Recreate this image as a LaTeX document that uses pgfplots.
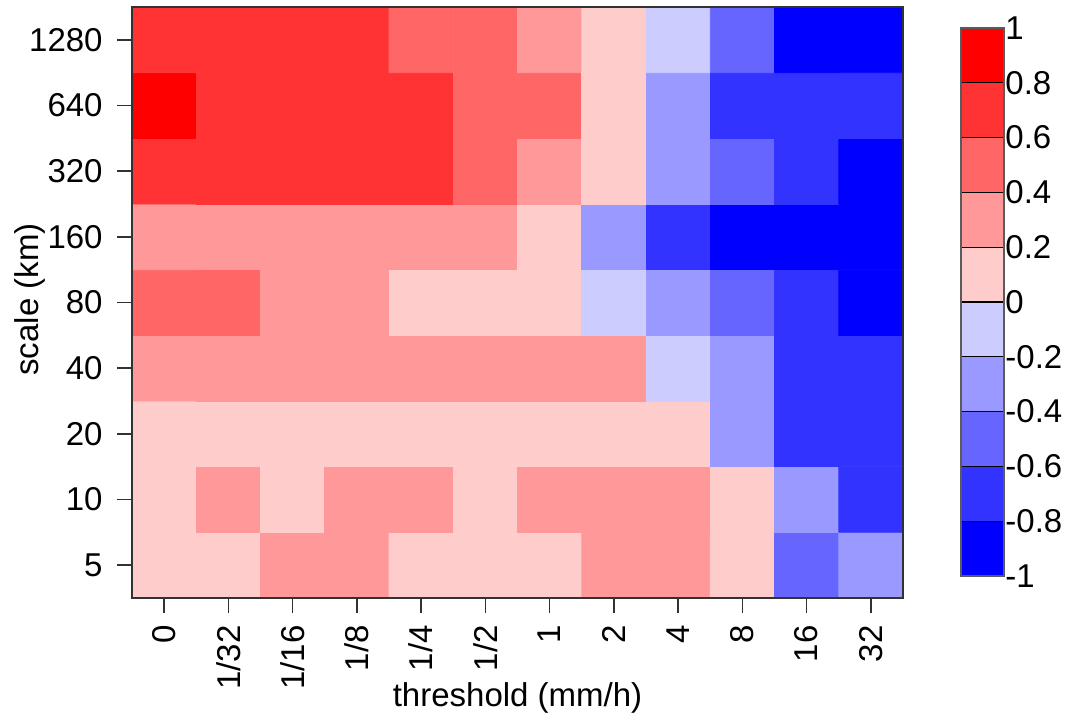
\documentclass[border=0pt]{standalone}
\usepackage{pgfplots}
\pgfplotsset{compat=1.18}
\usepackage{pgfplotstable}
\usepackage{fontspec}
\setmainfont{Liberation Sans}
\definecolor{c0}{RGB}{0,0,255}
\definecolor{c1}{RGB}{51,51,255}
\definecolor{c2}{RGB}{102,102,255}
\definecolor{c3}{RGB}{153,153,255}
\definecolor{c4}{RGB}{204,204,255}
\definecolor{c5}{RGB}{255,204,204}
\definecolor{c6}{RGB}{255,153,153}
\definecolor{c7}{RGB}{255,102,102}
\definecolor{c8}{RGB}{255,51,51}
\definecolor{c9}{RGB}{255,0,0}
\definecolor{axgray}{RGB}{50,50,50}

% x: threshold index, y: scale index, c: colour class index (0 = -1..-0.8, ..., 9 = 0.8..1)
\pgfplotstableread{
x y c
0 0 5
1 0 5
2 0 6
3 0 6
4 0 5
5 0 5
6 0 5
7 0 6
8 0 6
9 0 5
10 0 2
11 0 3
0 1 5
1 1 6
2 1 5
3 1 6
4 1 6
5 1 5
6 1 6
7 1 6
8 1 6
9 1 5
10 1 3
11 1 1
0 2 5
1 2 5
2 2 5
3 2 5
4 2 5
5 2 5
6 2 5
7 2 5
8 2 5
9 2 3
10 2 1
11 2 1
0 3 6
1 3 6
2 3 6
3 3 6
4 3 6
5 3 6
6 3 6
7 3 6
8 3 4
9 3 3
10 3 1
11 3 1
0 4 7
1 4 7
2 4 6
3 4 6
4 4 5
5 4 5
6 4 5
7 4 4
8 4 3
9 4 2
10 4 1
11 4 0
0 5 6
1 5 6
2 5 6
3 5 6
4 5 6
5 5 6
6 5 5
7 5 3
8 5 1
9 5 0
10 5 0
11 5 0
0 6 8
1 6 8
2 6 8
3 6 8
4 6 8
5 6 7
6 6 6
7 6 5
8 6 3
9 6 2
10 6 1
11 6 0
0 7 9
1 7 8
2 7 8
3 7 8
4 7 8
5 7 7
6 7 7
7 7 5
8 7 3
9 7 1
10 7 1
11 7 1
0 8 8
1 8 8
2 8 8
3 8 8
4 8 7
5 8 7
6 8 6
7 8 5
8 8 4
9 8 2
10 8 0
11 8 0
}\heat

\begin{document}
\begin{tikzpicture}
\useasboundingbox (-66pt,-61pt) rectangle (471.5pt,299pt);
\begin{axis}[
  at={(0pt,0pt)}, anchor=south west,
  scale only axis, width=385.5pt, height=295.5pt,
  xmin=-0.5, xmax=11.5, ymin=-0.5, ymax=8.5,
  xtick={0,...,11},
  xticklabels={0,1/32,1/16,1/8,1/4,1/2,1,2,4,8,16,32},
  ytick={0,...,8},
  yticklabels={5,10,20,40,80,160,320,640,1280},
  tick align=outside, major tick length=7.5pt,
  tick style={axgray, line width=0.7pt},
  xtick pos=bottom, ytick pos=left,
  axis line style={axgray, line width=0.8pt},
  tick label style={font=\fontsize{16.5}{19}\selectfont, text=black},
  xticklabel style={rotate=90, anchor=east, inner sep=1pt},
  xticklabel shift=5pt,
  yticklabel style={inner sep=1pt, xshift=-6pt},
  xlabel={threshold (mm/h)}, ylabel={scale (km)},
  label style={font=\fontsize{16.5}{19}\selectfont},
  xlabel style={at={(axis description cs:0.5,-0.169)}, anchor=center},
  ylabel style={at={(axis description cs:-0.132,0.505)}, anchor=center},
  colormap={rb}{rgb255=(0,0,255) rgb255=(51,51,255) rgb255=(102,102,255) rgb255=(153,153,255) rgb255=(204,204,255) rgb255=(255,204,204) rgb255=(255,153,153) rgb255=(255,102,102) rgb255=(255,51,51) rgb255=(255,0,0)},
  colormap access=direct,
  axis on top,
]
\addplot[matrix plot*, mesh/cols=12, mesh/rows=9, point meta=explicit] table[x=x, y=y, meta=c] {\heat};
\end{axis}

\begin{axis}[
  at={(414.5pt,11pt)}, anchor=south west,
  scale only axis, width=21.5pt, height=274pt,
  xmin=0, xmax=1, ymin=-1, ymax=1,
  xtick=\empty,
  ytick={-1,-0.8,-0.6,-0.4,-0.2,0,0.2,0.4,0.6,0.8,1},
  yticklabels={-1,-0.8,-0.6,-0.4,-0.2,0,0.2,0.4,0.6,0.8,1},
  yticklabel pos=right, ytick pos=right,
  major tick length=0pt,
  axis line style={axgray!80, line width=0.8pt},
  tick label style={font=\fontsize{16.5}{19}\selectfont, text=black},
  yticklabel style={inner sep=0.5pt, anchor=west},
  axis on top,
]
\addplot[fill=c0, draw=black, line width=0.6pt] coordinates {(0,-1) (1,-1) (1,-0.8) (0,-0.8) (0,-1)};
\addplot[fill=c1, draw=black, line width=0.6pt] coordinates {(0,-0.8) (1,-0.8) (1,-0.6) (0,-0.6) (0,-0.8)};
\addplot[fill=c2, draw=black, line width=0.6pt] coordinates {(0,-0.6) (1,-0.6) (1,-0.4) (0,-0.4) (0,-0.6)};
\addplot[fill=c3, draw=black, line width=0.6pt] coordinates {(0,-0.4) (1,-0.4) (1,-0.2) (0,-0.2) (0,-0.4)};
\addplot[fill=c4, draw=black, line width=0.6pt] coordinates {(0,-0.2) (1,-0.2) (1,0) (0,0) (0,-0.2)};
\addplot[fill=c5, draw=black, line width=0.6pt] coordinates {(0,0) (1,0) (1,0.2) (0,0.2) (0,0)};
\addplot[fill=c6, draw=black, line width=0.6pt] coordinates {(0,0.2) (1,0.2) (1,0.4) (0,0.4) (0,0.2)};
\addplot[fill=c7, draw=black, line width=0.6pt] coordinates {(0,0.4) (1,0.4) (1,0.6) (0,0.6) (0,0.4)};
\addplot[fill=c8, draw=black, line width=0.6pt] coordinates {(0,0.6) (1,0.6) (1,0.8) (0,0.8) (0,0.6)};
\addplot[fill=c9, draw=black, line width=0.6pt] coordinates {(0,0.8) (1,0.8) (1,1) (0,1) (0,0.8)};
\end{axis}
\end{tikzpicture}
\end{document}
